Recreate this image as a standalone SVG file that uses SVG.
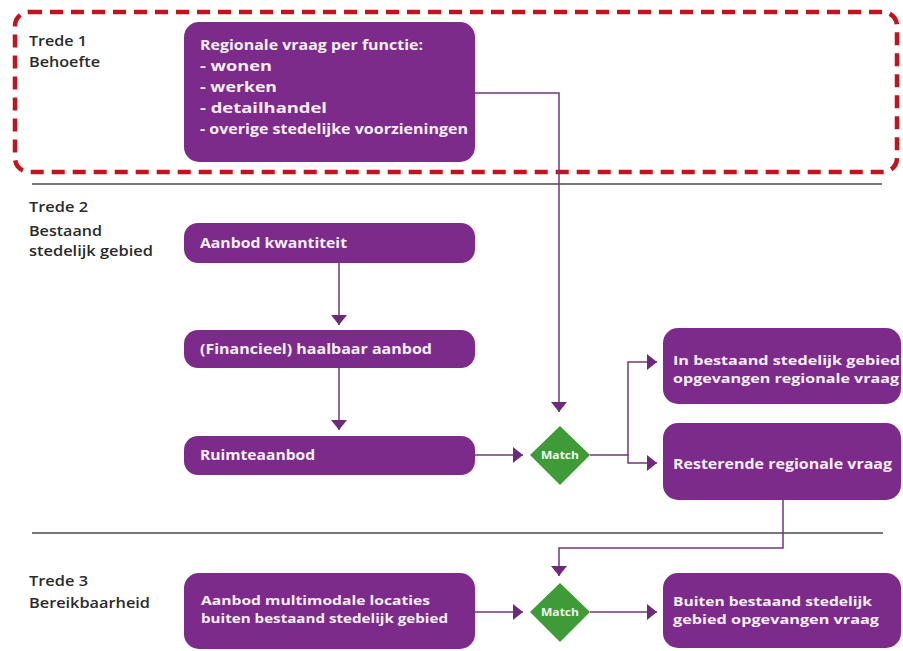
<svg xmlns="http://www.w3.org/2000/svg" width="903" height="651" viewBox="0 0 903 651">
<defs>
<style>
.box{fill:#7d2b8b}
.dia{fill:#3f9b37}
.nt{font-family:"Open Sans","Liberation Sans",sans-serif;font-weight:700;font-size:14px;fill:#f6eff7}
.nt2{font-family:"Open Sans","Liberation Sans",sans-serif;font-weight:700;font-size:13px;fill:#f6eff7}
.mt{font-family:"Open Sans","Liberation Sans",sans-serif;font-weight:700;font-size:11px;fill:#f2f7ee}
.lb{font-family:"Open Sans","Liberation Sans",sans-serif;font-weight:600;font-size:14px;fill:#2a2a2a}
.sep{stroke:#4a4a4a;stroke-width:1.5;fill:none}
.con{stroke:#6e3a78;stroke-width:1.5;fill:none}
</style>
<marker id="ah" markerUnits="userSpaceOnUse" markerWidth="12" markerHeight="18" refX="10" refY="8" orient="auto">
<path d="M0,0 L10,8 L0,16 Z" fill="#6e2a7a"/>
</marker>
</defs>
<rect width="903" height="651" fill="#ffffff"/>

<g id="phase1-frame">
<rect x="15" y="12" width="882" height="160" rx="14" fill="none" stroke="#c1141f" stroke-width="4.5" stroke-dasharray="13 8"/>
</g>

<g id="separators">
<line class="sep" x1="32" y1="184" x2="882" y2="184"/>
<line class="sep" x1="32" y1="533" x2="883" y2="533"/>
</g>

<g id="labels">
<text class="lb" x="29" y="46" textLength="58" lengthAdjust="spacingAndGlyphs">Trede 1</text>
<text class="lb" x="29" y="67" textLength="71" lengthAdjust="spacingAndGlyphs">Behoefte</text>
<text class="lb" x="29" y="212" textLength="59" lengthAdjust="spacingAndGlyphs">Trede 2</text>
<text class="lb" x="29" y="236" textLength="73" lengthAdjust="spacingAndGlyphs">Bestaand</text>
<text class="lb" x="29" y="256" textLength="124" lengthAdjust="spacingAndGlyphs">stedelijk gebied</text>
<text class="lb" x="29" y="586" textLength="59" lengthAdjust="spacingAndGlyphs">Trede 3</text>
<text class="lb" x="29" y="608" textLength="121" lengthAdjust="spacingAndGlyphs">Bereikbaarheid</text>
</g>

<g id="connectors">
<path class="con" d="M474,93 H559 V412" marker-end="url(#ah)"/>
<path class="con" d="M339,263 V325" marker-end="url(#ah)"/>
<path class="con" d="M339,368 V430" marker-end="url(#ah)"/>
<path class="con" d="M474,455 H523" marker-end="url(#ah)"/>
<path class="con" d="M590,455 H628 V362 H657" marker-end="url(#ah)"/>
<path class="con" d="M628,455 V463 H657" marker-end="url(#ah)"/>
<path class="con" d="M783,500 V548 H559 V576" marker-end="url(#ah)"/>
<path class="con" d="M475,612 H523" marker-end="url(#ah)"/>
<path class="con" d="M590,612 H657" marker-end="url(#ah)"/>
</g>

<g id="node-regionale-vraag">
<rect class="box" x="184" y="22" width="291" height="140" rx="15"/>
<text class="nt" x="200" y="50" textLength="223" lengthAdjust="spacingAndGlyphs">Regionale vraag per functie:</text>
<text class="nt" x="200" y="71" textLength="72" lengthAdjust="spacingAndGlyphs">- wonen</text>
<text class="nt" x="200" y="92" textLength="77" lengthAdjust="spacingAndGlyphs">- werken</text>
<text class="nt" x="200" y="113" textLength="127" lengthAdjust="spacingAndGlyphs">- detailhandel</text>
<text class="nt" x="200" y="134" textLength="268" lengthAdjust="spacingAndGlyphs">- overige stedelijke voorzieningen</text>
</g>

<g id="node-aanbod-kwantiteit">
<rect class="box" x="184" y="223" width="291" height="40" rx="14"/>
<text class="nt" x="200" y="248" textLength="147" lengthAdjust="spacingAndGlyphs">Aanbod kwantiteit</text>
</g>

<g id="node-haalbaar-aanbod">
<rect class="box" x="184" y="330" width="291" height="38" rx="14"/>
<text class="nt" x="200" y="354" textLength="232" lengthAdjust="spacingAndGlyphs">(Financieel) haalbaar aanbod</text>
</g>

<g id="node-ruimteaanbod">
<rect class="box" x="184" y="436" width="291" height="39" rx="14"/>
<text class="nt" x="200" y="460" textLength="115" lengthAdjust="spacingAndGlyphs">Ruimteaanbod</text>
</g>

<g id="node-match-1">
<polygon class="dia" points="560,426 590,455 560,485 530,455"/>
<text class="mt" x="560" y="459" text-anchor="middle" textLength="38" lengthAdjust="spacingAndGlyphs">Match</text>
</g>

<g id="node-opgevangen-bestaand">
<rect class="box" x="663" y="328" width="238" height="76" rx="15"/>
<text class="nt2" x="673" y="365" textLength="227" lengthAdjust="spacingAndGlyphs">In bestaand stedelijk gebied</text>
<text class="nt2" x="673" y="383" textLength="226" lengthAdjust="spacingAndGlyphs">opgevangen regionale vraag</text>
</g>

<g id="node-resterende-vraag">
<rect class="box" x="663" y="423" width="238" height="77" rx="15"/>
<text class="nt" x="673" y="469" textLength="219" lengthAdjust="spacingAndGlyphs">Resterende regionale vraag</text>
</g>

<g id="node-multimodale-locaties">
<rect class="box" x="184" y="573" width="291" height="76" rx="15"/>
<text class="nt2" x="201" y="605" textLength="229" lengthAdjust="spacingAndGlyphs">Aanbod multimodale locaties</text>
<text class="nt2" x="201" y="623" textLength="247" lengthAdjust="spacingAndGlyphs">buiten bestaand stedelijk gebied</text>
</g>

<g id="node-match-2">
<polygon class="dia" points="560,583 590,612 560,642 530,612"/>
<text class="mt" x="560" y="616" text-anchor="middle" textLength="38" lengthAdjust="spacingAndGlyphs">Match</text>
</g>

<g id="node-opgevangen-buiten">
<rect class="box" x="663" y="573" width="238" height="75" rx="15"/>
<text class="nt2" x="673" y="606" textLength="199" lengthAdjust="spacingAndGlyphs">Buiten bestaand stedelijk</text>
<text class="nt2" x="673" y="624" textLength="206" lengthAdjust="spacingAndGlyphs">gebied opgevangen vraag</text>
</g>
</svg>
